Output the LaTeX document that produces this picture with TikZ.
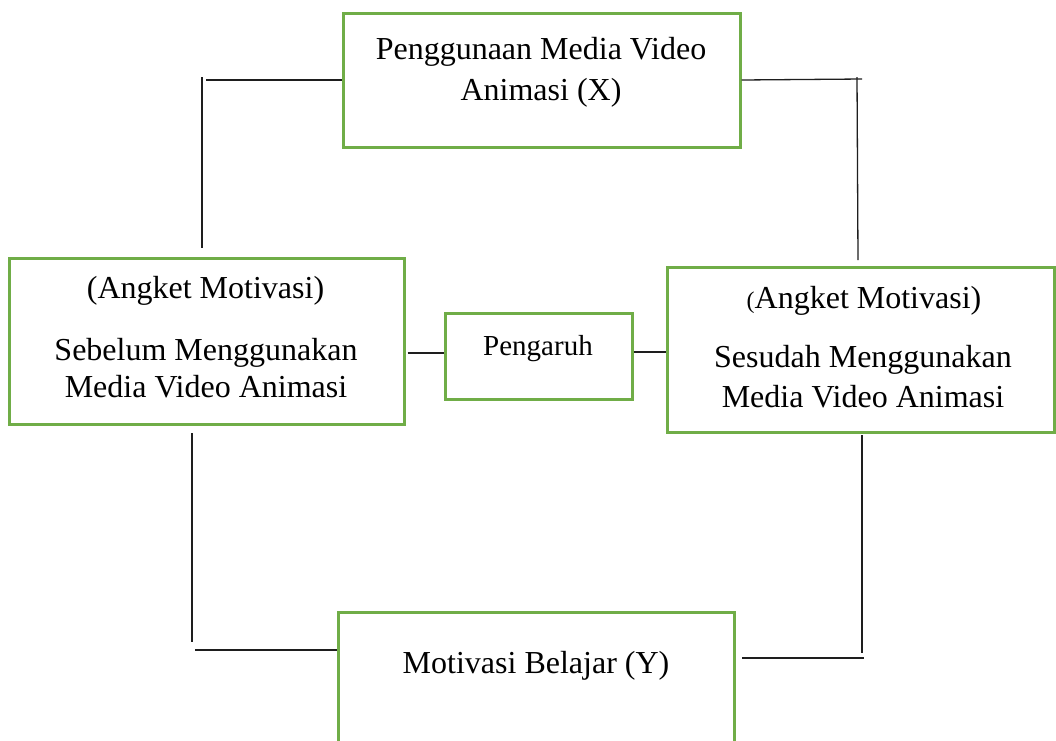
\documentclass[tikz,border=0pt]{standalone}
\usepackage{fontspec}
\setmainfont{Liberation Serif}
\definecolor{boxgreen}{RGB}{112,173,71}
\definecolor{linegray}{RGB}{30,30,30}
\begin{document}
\begin{tikzpicture}[x=1pt,y=-1pt,
  box/.style={draw=boxgreen, line width=3pt, inner sep=0pt, fill=none},
  txt/.style={inner sep=0pt, anchor=base, font=\fontsize{32}{38}\selectfont},
  smalltxt/.style={inner sep=0pt, anchor=base, font=\fontsize{29}{34}\selectfont},
  conn/.style={draw=linegray, line width=1.3pt}]
\clip (0,0) rectangle (1056,740);
\fill[white] (0,0) rectangle (1056,740);
% boxes
\node[box, minimum width=397pt, minimum height=134pt] (top) at (541.5,80) {};
\node[box, minimum width=395pt, minimum height=166pt] (left) at (206.5,341) {};
\node[box, minimum width=187pt, minimum height=86pt] (pg) at (538.5,356) {};
\node[box, minimum width=387pt, minimum height=165pt] (right) at (860.5,349.5) {};
\node[box, minimum width=396pt, minimum height=156pt] (bot) at (536,690) {};
% texts
\node[txt] (t1) at (541,59) {Penggunaan Media Video};
\node[txt] (t2) at (541,100) {Animasi (X)};
\node[txt] (l1) at (205.5,298) {(Angket Motivasi)};
\node[txt] (l2) at (206,360) {Sebelum Menggunakan};
\node[txt] (l3) at (206,397) {Media Video Animasi};
\node[smalltxt] (p1) at (538,355) {Pengaruh};
\node[txt] (r1) at (864,308) {{\fontsize{24}{28}\selectfont(}Angket Motivasi)};
\node[txt] (r2) at (863,367) {Sesudah Menggunakan};
\node[txt] (r3) at (863,407) {Media Video Animasi};
\node[txt] (b1) at (536,673) {Motivasi Belajar (Y)};
% free ends
\coordinate (tlh) at (206,80);
\coordinate (tlv1) at (202,77);
\coordinate (tlv2) at (202,248);
\coordinate (trh) at (862,79);
\coordinate (trv1) at (857,77);
\coordinate (trv2) at (858,260);
\coordinate (blv1) at (192,433);
\coordinate (blv2) at (192,642);
\coordinate (blh) at (195,650);
\coordinate (brv1) at (862,435);
\coordinate (brv2) at (862,653);
\coordinate (brh1) at (742,658);
\coordinate (brh2) at (864,658);
% connectors
\draw[conn] (top.west) -- (tlh);
\draw[conn] (tlv1) -- (tlv2);
\draw[conn] (top.east) -- (trh);
\draw[conn] (trv1) -- (trv2);
\draw[conn] ([xshift=2pt]left.east |- 0,353) -- (pg.west |- 0,353);
\draw[conn] (pg.east |- 0,352) -- (right.west |- 0,352);
\draw[conn] (blv1) -- (blv2);
\draw[conn] (blh) -- (bot.west |- blh);
\draw[conn] (brv1) -- (brv2);
\draw[conn] (brh1) -- (brh2);
\end{tikzpicture}
\end{document}
